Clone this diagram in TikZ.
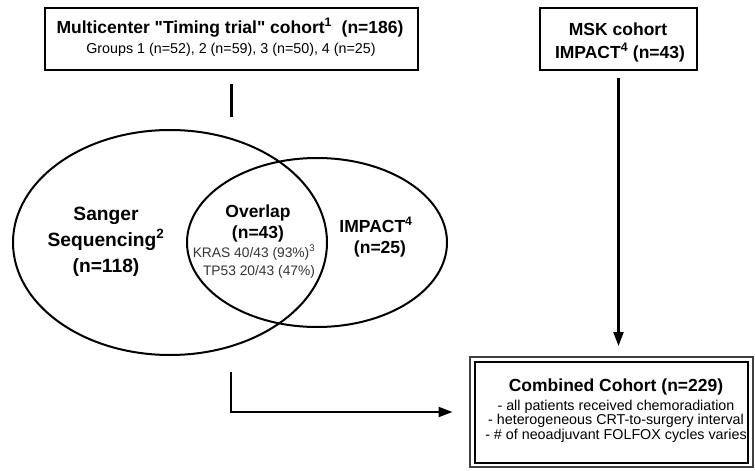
\documentclass[tikz,border=0pt]{standalone}
\usepackage{fontspec}
\setmainfont{Liberation Sans}[Ligatures=TeXOff]
\usetikzlibrary{arrows.meta,shapes.geometric}
\begin{document}
\begin{tikzpicture}[x=1pt,y=-1pt,
  bt/.style={font=\fontsize{17.5}{20}\selectfont\bfseries, anchor=base, inner sep=0},
  vt/.style={font=\fontsize{19.2}{21}\selectfont\bfseries, anchor=base, inner sep=0},
  st/.style={font=\fontsize{14.3}{16}\selectfont, anchor=base, inner sep=0},
  gt/.style={font=\fontsize{13.8}{16}\selectfont, anchor=base, inner sep=0, text=black!80},
  boxshape/.style={draw, line width=2.1pt, inner sep=0, outer sep=0},
  venn/.style={draw, ellipse, line width=2pt, inner sep=0, outer sep=0},
  conn/.style={line width=2.2pt},
  arr/.style={line width=2.2pt, -{Triangle[length=14pt,width=10pt]}}
]
\useasboundingbox (0,0) rectangle (755,471);

% boxes
\node[boxshape, minimum width=373, minimum height=62] (timing) at (231.5,39) {};
\node[boxshape, minimum width=157, minimum height=62] (msk) at (618.5,39) {};
\node[draw, line width=1.1pt, draw=black!75, minimum width=283, minimum height=110, inner sep=0, outer sep=0] (comb) at (611.5,412) {};
\node[draw, line width=2.4pt, minimum width=273, minimum height=101, inner sep=0, outer sep=0] (combin) at (611.5,412.5) {};

% Venn ellipses
\node[venn, minimum width=314, minimum height=225] (sanger) at (170,242.5) {};
\node[venn, minimum width=260, minimum height=169] (impact) at (317,242.5) {};

% texts
\node[bt] (t1) at (230,33) {Multicenter "Timing trial" cohort\textsuperscript{1}\ \ (n=186)};
\node[st] (t2) at (231,53) {Groups 1 (n=52), 2 (n=59), 3 (n=50), 4 (n=25)};

\node[bt] (m1) at (618,35) {MSK cohort};
\node[bt] (m2) at (620,58) {IMPACT\textsuperscript{4} (n=43)};

\node[vt] (s1) at (106,220) {Sanger};
\node[vt] (s2) at (106,246) {Sequencing\textsuperscript{2}};
\node[vt] (s3) at (106,272) {(n=118)};

\node[bt] (o1) at (258,217) {Overlap};
\node[bt] (o2) at (258,238) {(n=43)};
\node[gt] (o3) at (254,257) {KRAS 40/43 (93\%)\textsuperscript{3}};
\node[gt] (o4) at (259,275) {TP53 20/43 (47\%)};

\node[bt] (i1) at (376,232) {IMPACT\textsuperscript{4}};
\node[bt] (i2) at (380,253) {(n=25)};

\node[bt] (c1) at (616,391) {Combined Cohort (n=229)};
\node[st] (c2) at (616,410) {- all patients received chemoradiation};
\node[st] (c3) at (616,424.5) {- heterogeneous CRT-to-surgery interval};
\node[st] (c4) at (616,439) {- \# of neoadjuvant FOLFOX cycles varies};

% connectors
\coordinate (tend) at (231.5,117);
\draw[conn] ([yshift=-14pt]timing.south) -- (tend);
\draw[arr, shorten <=8pt, shorten >=11pt] (msk.south) -- (msk.south |- comb.north);
\coordinate (vennout) at (231,372);
\draw[arr, shorten >=17.5pt] (vennout) |- (comb.west);
\end{tikzpicture}
\end{document}
